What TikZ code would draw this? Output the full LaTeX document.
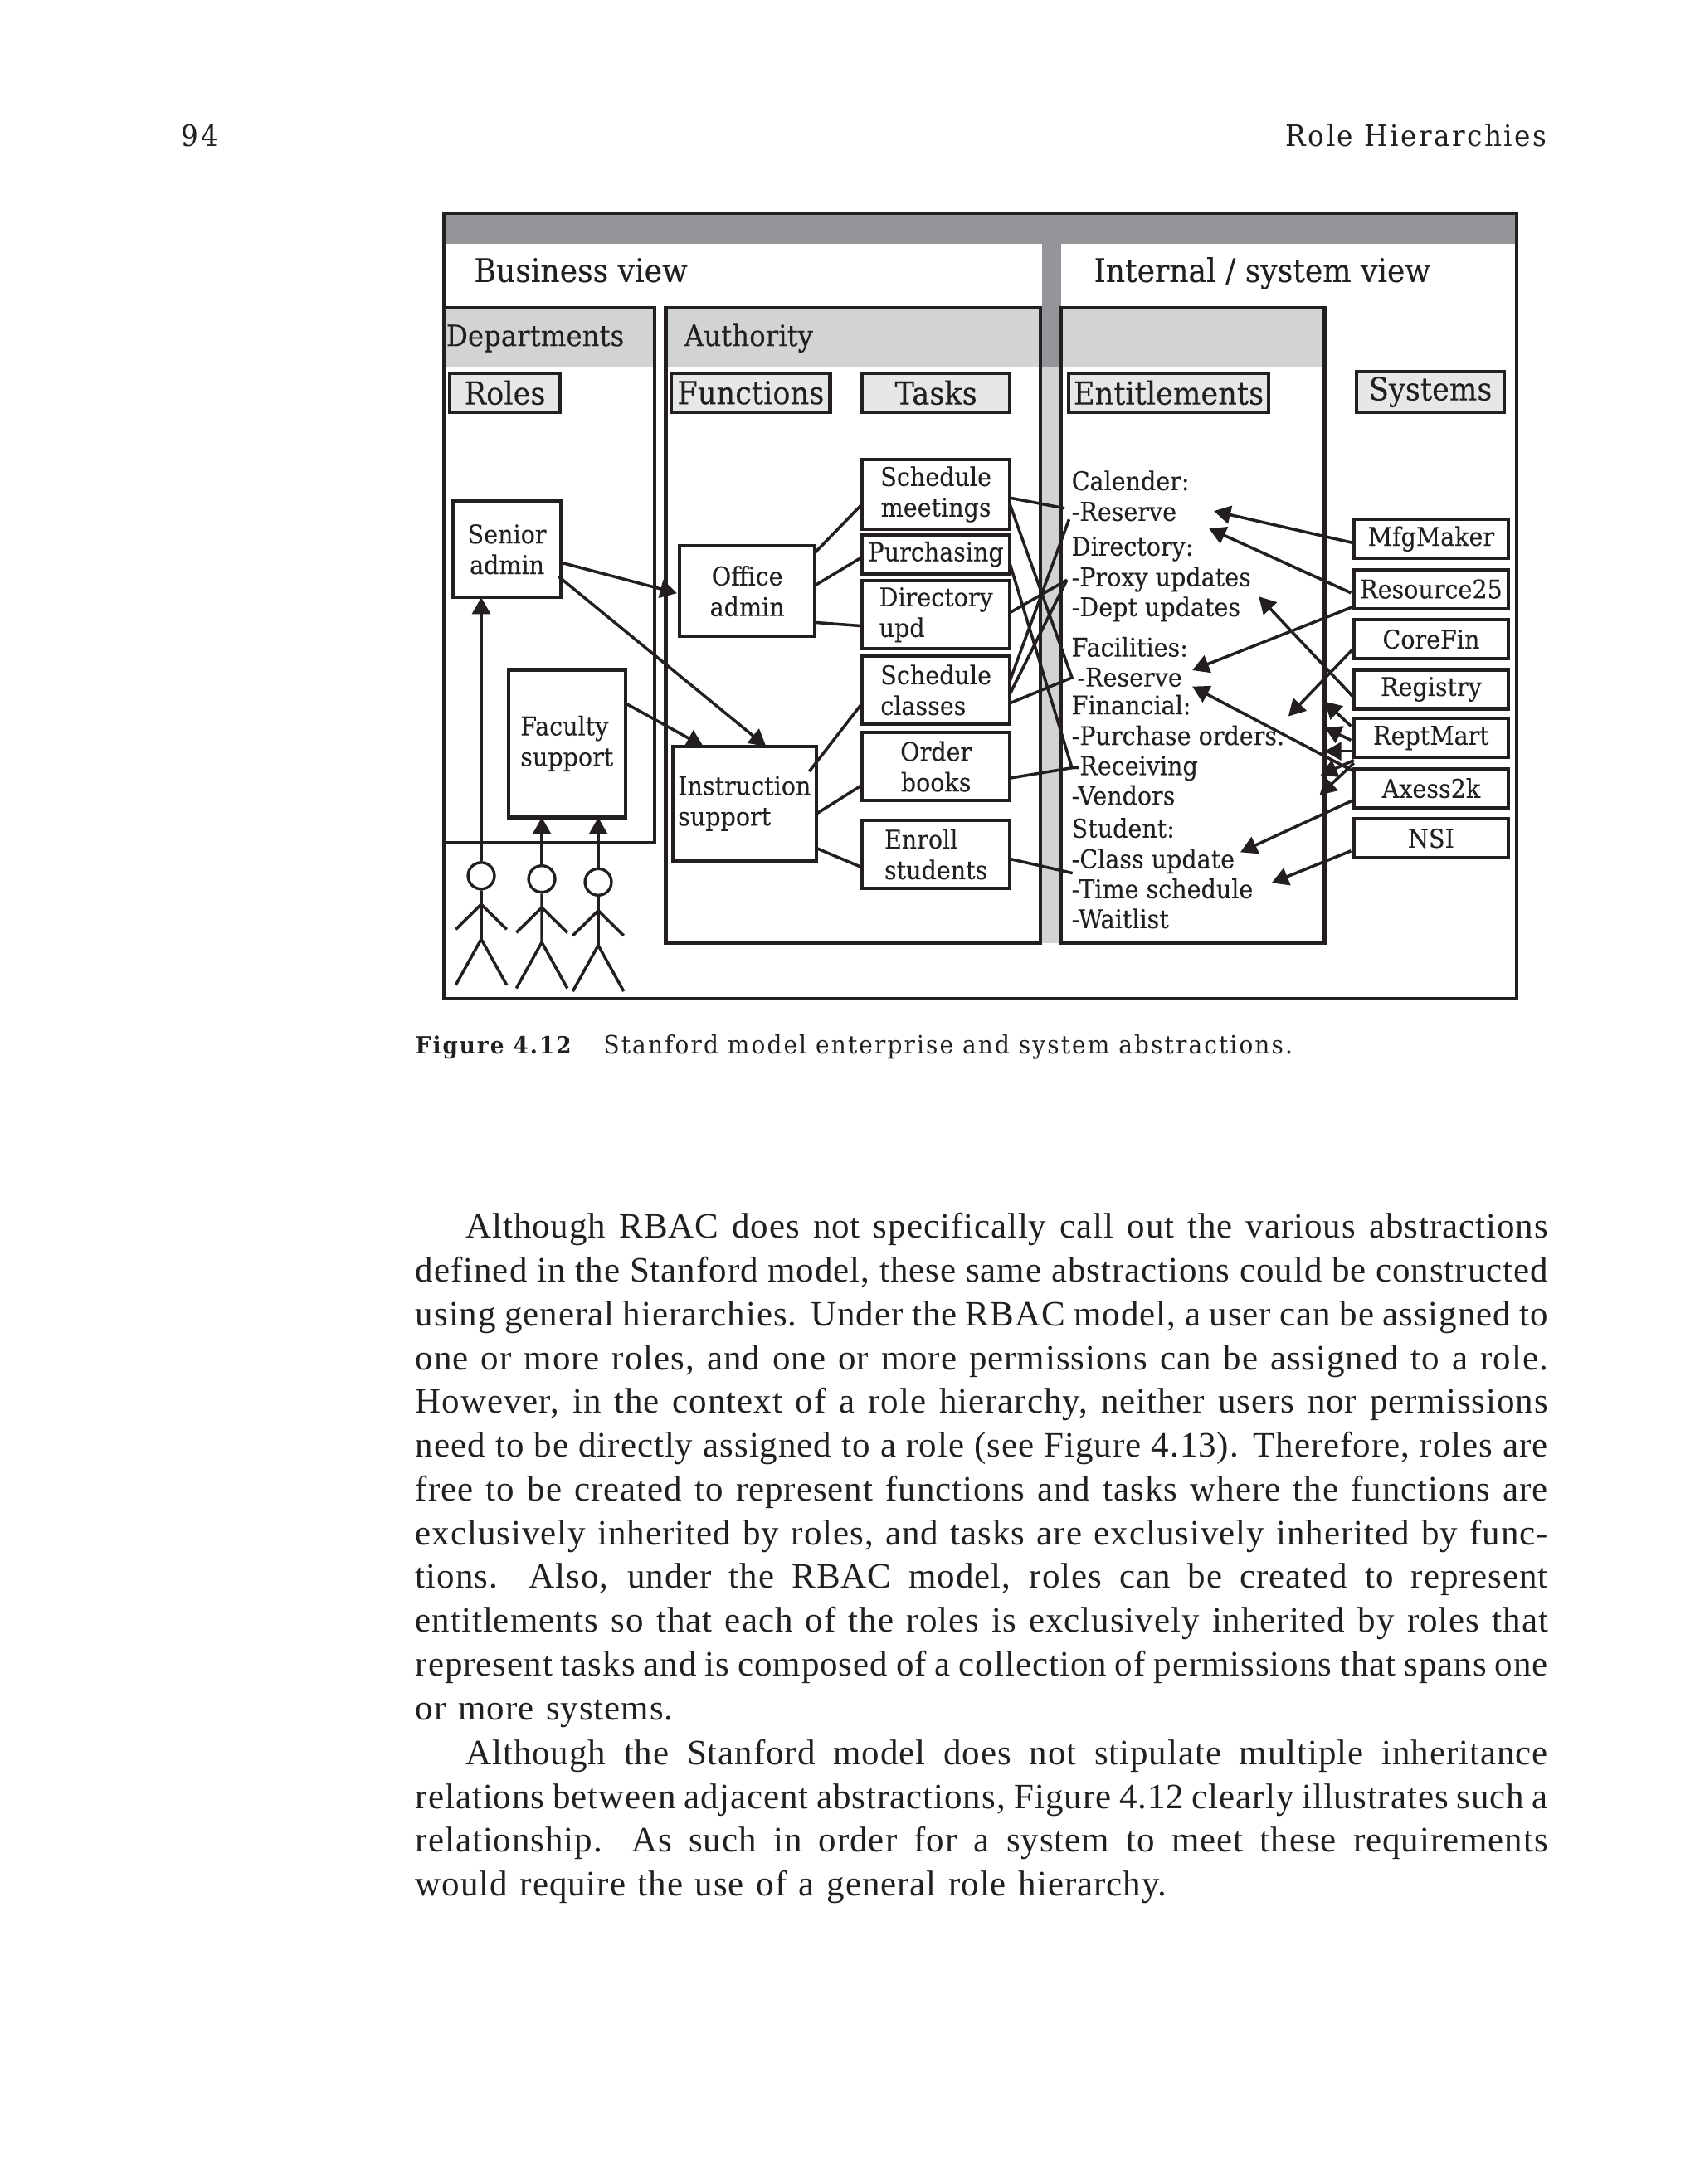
\documentclass[tikz,border=0pt]{standalone}
\usepackage{fontspec}
\usepackage{tikz}
\usetikzlibrary{arrows.meta,positioning,shapes.geometric}
\setmainfont[LetterSpace=2.2,WordSpace={1.25,1,1.6}]{Liberation Serif}
\newfontfamily\slab[FakeStretch=.92,FakeBold=.12]{DejaVu Serif}
\newfontfamily\slabwide[FakeStretch=.92,LetterSpace=7]{DejaVu Serif}
\definecolor{bardark}{HTML}{939598}
\definecolor{barlight}{HTML}{D1D3D4}
\definecolor{labelgray}{HTML}{E6E7E8}
\definecolor{ink}{HTML}{231F20}
\tikzset{
	box/.style={draw=ink,line width=1.25pt,inner sep=0pt,outer sep=0pt,font=\slab\fontsize{9.25}{11}\selectfont,text=ink,align=center},
	labelbox/.style={box,fill=labelgray,font=\slab\fontsize{11.4}{13}\selectfont},
	title/.style={anchor=base west,inner sep=0pt,text=ink,font=\slab\fontsize{11.7}{13}\selectfont},
	entry/.style={anchor=base west,inner sep=0pt,text=ink,font=\slab\fontsize{9.25}{11}\selectfont},
	link/.style={draw=ink,line width=1.05pt},
	arrow/.style={link,-{Triangle[length=6pt,width=6.5pt]}},
	pagetext/.style={inner sep=0pt,anchor=north west,text=ink,text width=406.5pt,align=justify,font=\fontsize{12.8}{15.72}\selectfont},
}
\begin{document}
\begin{tikzpicture}[x=0.5pt,y=-0.5pt]
	\useasboundingbox (0,0) rectangle (1220,1568.4);
	%% running head
	\node[anchor=base west,inner sep=0pt,text=ink,font=\slabwide\fontsize{10.6}{12}\selectfont] (pageno) at (130,105) {94};
	\node[anchor=base east,inner sep=0pt,text=ink,font=\slabwide\fontsize{10.6}{12}\selectfont] (runhead) at (1111,105) {Role Hierarchies};
	%% gray bands go first so that the boxes lie on top of them
	\fill[barlight] (320,221) rectangle (470,263);
	\fill[barlight] (478,221) rectangle (951,263);
	\fill[barlight] (748,263) rectangle (762,677);
	\fill[bardark] (319,153) rectangle (1089,175);
	\fill[bardark] (748,175) rectangle (762,263);
	\draw[ink,line width=1.3pt] (319,153) rectangle (1089,717);
	\draw[ink,line width=1.25pt] (319,221) rectangle (470,605);
	\draw[ink,line width=1.25pt] (478,221) rectangle (747,677);
	\draw[ink,line width=1.25pt] (762,221) rectangle (951,677);
	%% headings
	\node[title] (business) at (340,202.5) {Business view};
	\node[title] (internal) at (785,202.5) {Internal / system view};
	\node[title,font=\slab\fontsize{10.5}{12}\selectfont] (departments) at (320,248.5) {Departments};
	\node[title,font=\slab\fontsize{10.5}{12}\selectfont] (authority) at (491,248.5) {Authority};
	\node[labelbox,minimum width=39.5pt,minimum height=14pt] (roles) at (362.5,282) {Roles};
	\node[labelbox,minimum width=57pt,minimum height=14pt] (functions) at (539,282) {Functions};
	\node[labelbox,minimum width=53pt,minimum height=14pt] (tasks) at (672,282) {Tasks};
	\node[labelbox,minimum width=72pt,minimum height=14pt] (entitlements) at (839,282) {Entitlements};
	\node[labelbox,minimum width=53pt,minimum height=14.5pt] (systems) at (1027,281.5) {Systems};
	%% roles and functions
	\node[box,minimum width=39pt,minimum height=34.5pt] (senior) at (364,394.5) {Senior\\admin};
	\node[box,minimum width=42pt,minimum height=53pt,align=left] (faculty) at (407,534) {Faculty\\support};
	\node[box,minimum width=48.5pt,minimum height=32.5pt] (office) at (536.5,424.5) {Office\\admin};
	\node[box,minimum width=51.5pt,minimum height=41pt,align=left] (instruction) at (534.5,577) {Instruction\\support};
	%% tasks
	\node[box,minimum width=53pt,minimum height=25pt] (meetings) at (672,355) {Schedule\\meetings};
	\node[box,minimum width=53pt,minimum height=14pt] (purchasing) at (672,398) {Purchasing};
	\node[box,minimum width=53pt,minimum height=24.5pt,align=left] (directory) at (672,441.5) {Directory\\upd};
	\node[box,minimum width=53pt,minimum height=24.5pt,align=left] (classes) at (672,495.5) {Schedule\\classes};
	\node[box,minimum width=53pt,minimum height=24.5pt] (books) at (672,550.5) {Order\\books};
	\node[box,minimum width=53pt,minimum height=24.5pt,align=left] (enroll) at (672,613.5) {Enroll\\students};
	%% systems
	\foreach \sysname/\sysy/\systext in {mfg/387/MfgMaker,resource/423/Resource25,corefin/459/CoreFin,registry/495/Registry,reptmart/530/ReptMart,axess/566/Axess2k,nsi/602/NSI}
		\node[box,minimum width=55.5pt,minimum height=14pt] (\sysname) at (1027.5,\sysy) {\systext};
	%% entitlements
	\foreach \ename/\ey/\etext in {calhead/352/Calender:,calres/374/-Reserve,dirhead/399/Directory:,dirproxy/421/-Proxy updates,dirdept/442.5/-Dept updates,fachead/471.5/Facilities:,finhead/513/Financial:,finpo/535/-Purchase orders.,finrec/556.5/-Receiving,finven/578/-Vendors,stuhead/601.5/Student:,stuclass/623.5/-Class update,stutime/645/-Time schedule,stuwait/666.5/-Waitlist}
		\node[entry] (\ename) at (769,\ey) {\etext};
	\node[entry] (facres) at (773,493) {-Reserve};
	%% free ends of the arrows on the right
	\coordinate (endcal) at (871.5,367);
	\coordinate (endcalb) at (868,379.5);
	\coordinate (endfac) at (856,481.3);
	\coordinate (endfacb) at (856,493);
	\coordinate (enddept) at (903.8,428.4);
	\coordinate (endorders) at (925,514.4);
	\coordinate (endmarta) at (951,503.8);
	\coordinate (endmartb) at (951,522.3);
	\coordinate (endmartc) at (951,539.5);
	\coordinate (endmartd) at (948,556.7);
	\coordinate (endmarte) at (947.4,571);
	\coordinate (endclass) at (890.5,612);
	\coordinate (endtime) at (913,634);
	\coordinate (crossfac) at (769.6,486.6);
	\coordinate (crossrec) at (769.6,551.4);
	\coordinate (crosscal) at (764.3,365);
	\coordinate (crossres) at (767.5,373);
	\coordinate (crossproxy) at (766,416.5);
	\coordinate (crosstime) at (770,627);
	%% users
	\foreach \uname/\ux/\uy in {userA/345.5/628.9,userB/389/631.2,userC/429.5/633.4}{
		\node[draw=ink,line width=1pt,ellipse,inner sep=0pt,minimum width=9.5pt,minimum height=9.5pt] (\uname) at (\ux,\uy) {};
		\draw[link] (\uname.south) -- ++(0,35) -- ++(-18.3,33) (\uname.south) ++(0,35) -- ++(18.3,33);
		\draw[link] (\uname.south) ++(0,10) -- ++(-18.3,18) (\uname.south) ++(0,10) -- ++(18.3,18);
	}
	\draw[arrow] (userA.north) -- (senior.south -| userA.north);
	\draw[arrow] (userB.north) -- (faculty.south -| userB.north);
	\draw[arrow] (userC.north) -- (faculty.south -| userC.north);
	%% roles to functions
	\draw[arrow] (senior.east |- 0,404) -- ([xshift=-1pt]office.west |- 0,426);
	\draw[arrow] ([xshift=-1pt]senior.east |- 0,414) -- (550,0 |- instruction.north);
	\draw[arrow] (faculty.east |- 0,505) -- (505,0 |- instruction.north);
	%% functions to tasks
	\draw[link] (office.east |- 0,397) -- (meetings.west |- 0,362);
	\draw[link] (office.east |- 0,420.5) -- (purchasing.west |- 0,400);
	\draw[link] (office.east |- 0,447) -- (directory.west |- 0,449.5);
	\draw[link] ([xshift=-2.5pt]instruction.east |- 0,554) -- (classes.west |- 0,505);
	\draw[link] (instruction.east |- 0,584.5) -- (books.west |- 0,563.7);
	\draw[link] (instruction.east |- 0,609) -- (enroll.west |- 0,623);
	%% tasks to entitlements
	\draw[link] (meetings.east |- 0,357.5) -- (crosscal);
	\draw[link] (meetings.east |- 0,362) -- (crossfac) -- (classes.east |- 0,505);
	\draw[link] (purchasing.east |- 0,404.6) -- (crossrec) -- (books.east |- 0,558.8);
	\draw[link] (crossrec) -- ++(5,0);
	\draw[link] (classes.east |- 0,489) -- (crossres);
	\draw[link] (directory.east |- 0,440) -- (crossproxy);
	\draw[link] (classes.east |- 0,498.5) -- (crossproxy);
	\draw[link] (enroll.east |- 0,616.8) -- (crosstime);
	%% systems to entitlements
	\draw[arrow] (mfg.west |- 0,390) -- (endcal);
	\draw[arrow] ([xshift=-1pt]resource.west |- 0,425.8) -- (endcalb);
	\draw[arrow] (resource.west |- 0,435.5) -- (endfac);
	\draw[arrow] (registry.west |- 0,501) -- (enddept);
	\draw[arrow] (corefin.west |- 0,465.4) -- (endorders);
	\draw[arrow] ([xshift=-1pt]reptmart.west |- 0,521.5) -- (endmarta);
	\draw[arrow] ([xshift=-1pt]reptmart.west |- 0,531.6) -- (endmartb);
	\draw[arrow] (reptmart.west |- 0,539.5) -- (endmartc);
	\draw[arrow] (reptmart.west |- 0,546) -- (endmartd);
	\draw[arrow] (reptmart.west |- 0,548) -- (endmarte);
	\draw[arrow] (axess.west |- 0,554) -- (endfacb);
	\draw[arrow] (axess.west |- 0,574.4) -- (endclass);
	\draw[arrow] ([xshift=-1pt]nsi.west |- 0,611) -- (endtime);
	%% caption and text of the page
	\node[anchor=base west,inner sep=0pt,text=ink,font=\slabwide\bfseries\fontsize{8.5}{10}\selectfont] (figlabel) at (298,756.5) {Figure 4.12};
	\node[anchor=base west,inner sep=0pt,text=ink,font=\slabwide\fontsize{9.05}{10}\selectfont] (caption) at (433,756.5) {Stanford model enterprise and system abstractions.};
	\node[pagetext] (paraone) at (298,870.7) {\hspace*{18pt}Although RBAC does not specifically call out the various abstractions\linebreak
		defined in the Stanford model, these same abstractions could be constructed\linebreak
		using general hierarchies. Under the RBAC model, a user can be assigned to\linebreak
		one or more roles, and one or more permissions can be assigned to a role.\linebreak
		However, in the context of a role hierarchy, neither users nor permissions\linebreak
		need to be directly assigned to a role (see Figure 4.13). Therefore, roles are\linebreak
		free to be created to represent functions and tasks where the functions are\linebreak
		exclusively inherited by roles, and tasks are exclusively inherited by func-\linebreak
		tions. Also, under the RBAC model, roles can be created to represent\linebreak
		entitlements so that each of the roles is exclusively inherited by roles that\linebreak
		represent tasks and is composed of a collection of permissions that spans one\linebreak
		or more systems.};
	\node[pagetext] (paratwo) at (298,1248.7) {\hspace*{18pt}Although the Stanford model does not stipulate multiple inheritance\linebreak
		relations between adjacent abstractions, Figure 4.12 clearly illustrates such a\linebreak
		relationship. As such in order for a system to meet these requirements\linebreak
		would require the use of a general role hierarchy.};
\end{tikzpicture}
\end{document}
